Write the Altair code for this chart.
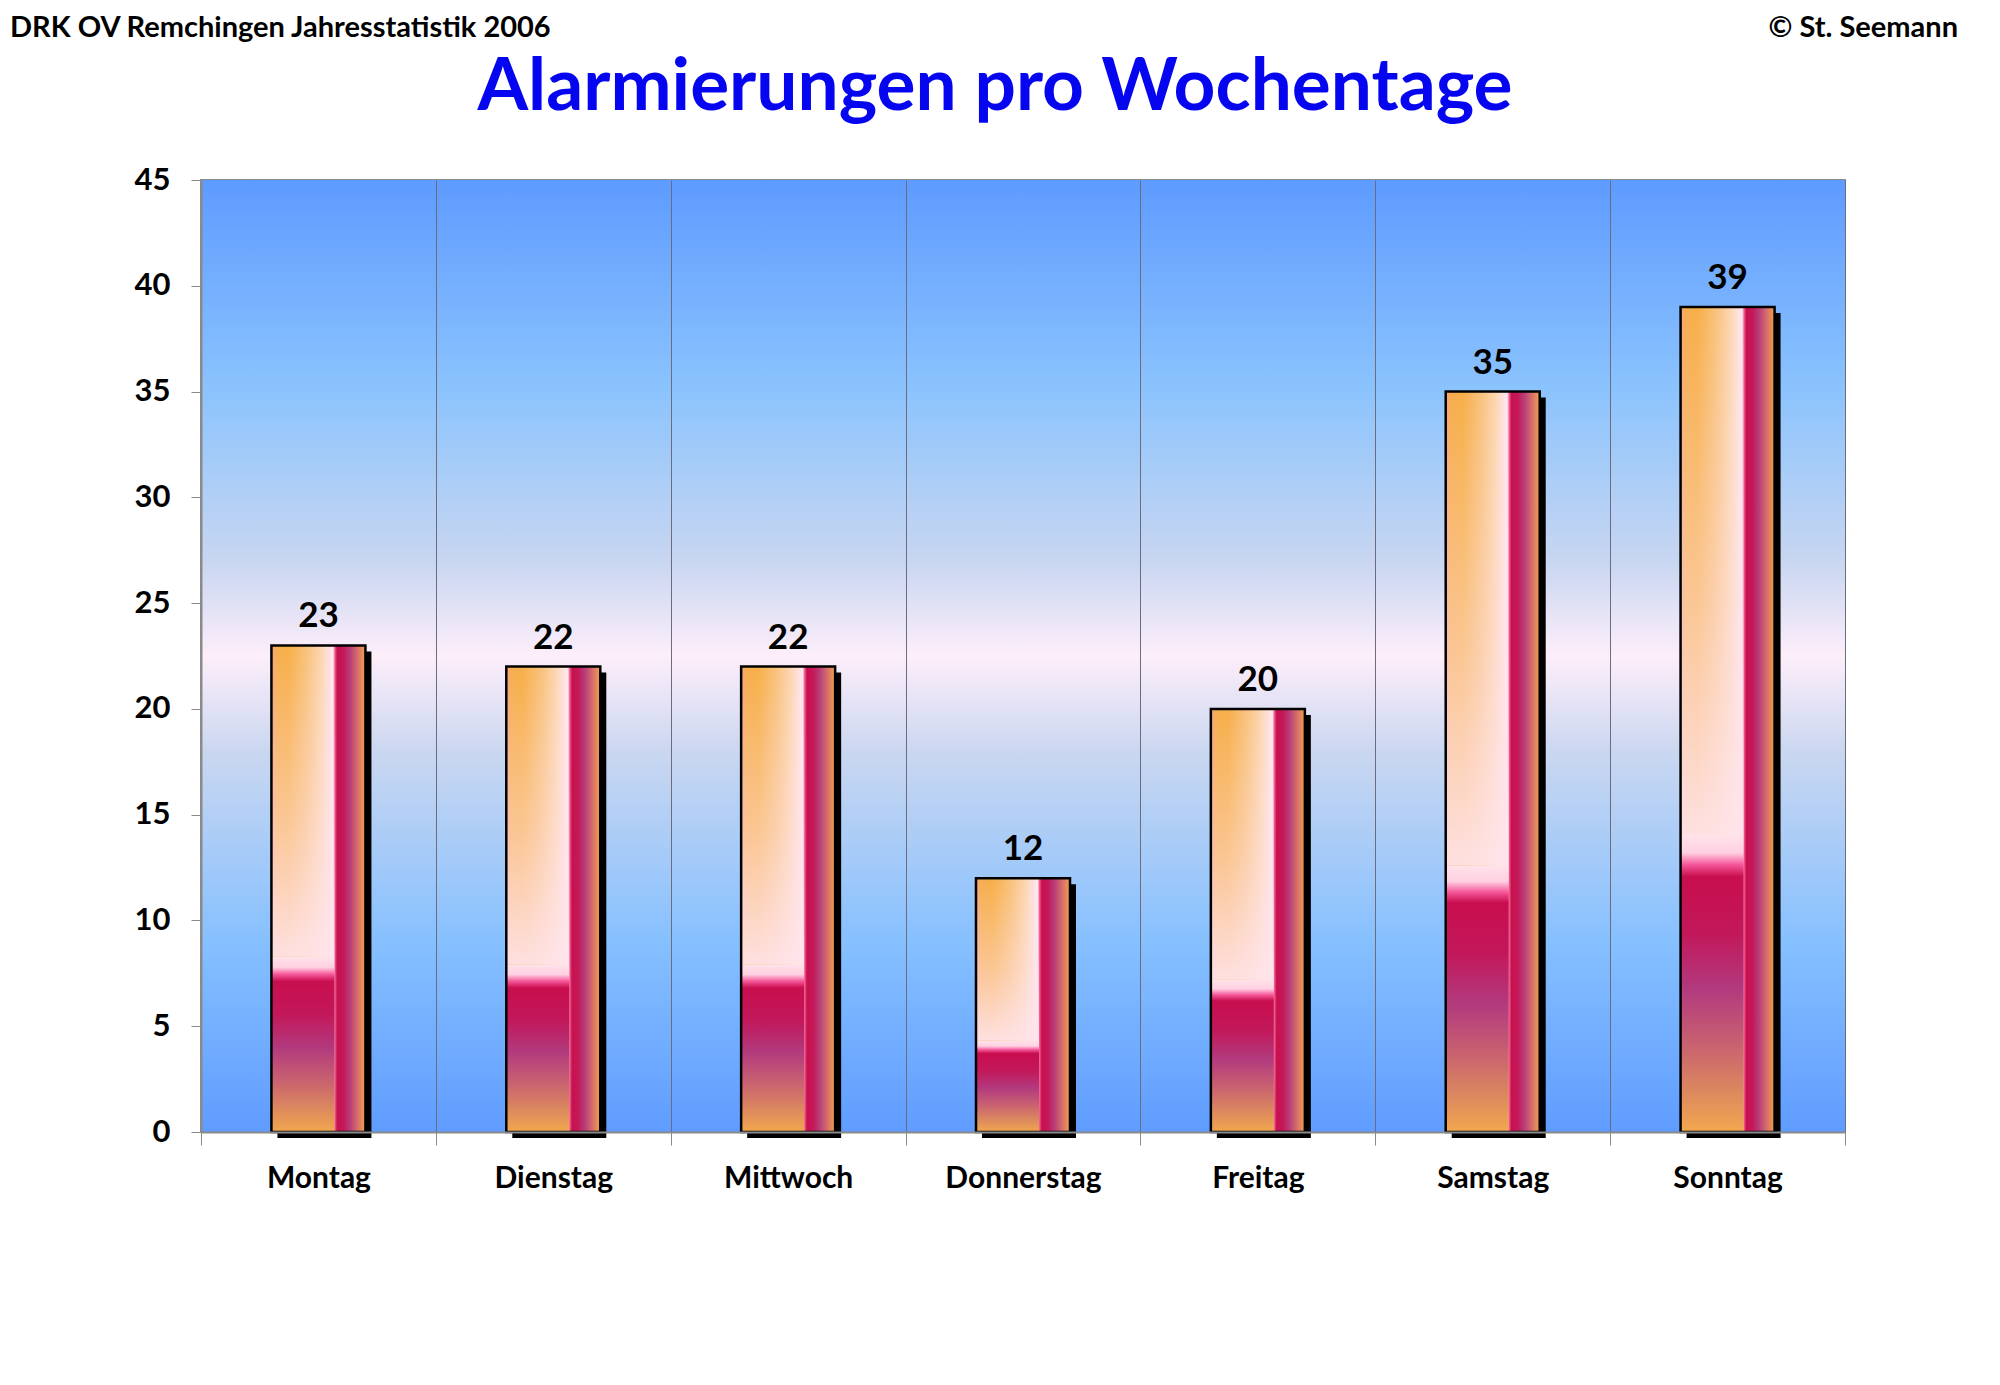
import altair as alt
import pandas as pd

# ---- data ----
days = ["Montag", "Dienstag", "Mittwoch", "Donnerstag", "Freitag", "Samstag", "Sonntag"]
counts = [23, 22, 22, 12, 20, 35, 39]
y_ticks = [0, 5, 10, 15, 20, 25, 30, 35, 40, 45]
header_left = "DRK OV Remchingen Jahresstatistik 2006"
header_right = "© St. Seemann"
main_title = "Alarmierungen pro Wochentage"

df = pd.DataFrame({"day": days, "n": counts})

FONT = "Lato"
W, H = 1644, 952
BAR_W = 94
LEFT_W = 63

bg_grad = {
    "gradient": "linear", "x1": 0, "y1": 0, "x2": 0, "y2": 1,
    "stops": [
        {"offset": 0.00, "color": "#5e9bff"},
        {"offset": 0.22, "color": "#8bc3fd"},
        {"offset": 0.40, "color": "#c8d6f1"},
        {"offset": 0.50, "color": "#fdeefa"},
        {"offset": 0.60, "color": "#cad7f0"},
        {"offset": 0.80, "color": "#86c0ff"},
        {"offset": 1.00, "color": "#5f9cff"},
    ],
}

bar_grad = {
    "gradient": "linear", "x1": 0, "y1": 0, "x2": 1, "y2": 0,
    "stops": [
        {"offset": 0.00, "color": "#f7a08a"},
        {"offset": 0.05, "color": "#f6ad50"},
        {"offset": 0.18, "color": "#f7af48"},
        {"offset": 0.38, "color": "#f9c27e"},
        {"offset": 0.52, "color": "#fcd5ad"},
        {"offset": 0.63, "color": "#ffe3e6"},
        {"offset": 0.655, "color": "#ffe8f0"},
        {"offset": 0.675, "color": "#f06090"},
        {"offset": 0.70, "color": "#c8104e"},
        {"offset": 0.77, "color": "#c41a5a"},
        {"offset": 0.84, "color": "#b8407a"},
        {"offset": 0.92, "color": "#d87068"},
        {"offset": 1.00, "color": "#f0a050"},
    ],
}

fade_grad = {
    "gradient": "linear", "x1": 0, "y1": 0, "x2": 0, "y2": 1,
    "stops": [
        {"offset": 0.00, "color": "rgba(255,228,236,0)"},
        {"offset": 0.55, "color": "rgba(255,226,234,0.45)"},
        {"offset": 1.00, "color": "rgba(255,228,236,0.92)"},
    ],
}

low_grad = {
    "gradient": "linear", "x1": 0, "y1": 0, "x2": 0, "y2": 1,
    "stops": [
        {"offset": 0.00, "color": "#ffe3ea"},
        {"offset": 0.06, "color": "#ffd0e2"},
        {"offset": 0.10, "color": "#f5579a"},
        {"offset": 0.14, "color": "#c80e4e"},
        {"offset": 0.33, "color": "#c2185a"},
        {"offset": 0.52, "color": "#b23a7e"},
        {"offset": 0.70, "color": "#c86070"},
        {"offset": 0.85, "color": "#da8560"},
        {"offset": 1.00, "color": "#f2a84e"},
    ],
}

x_enc = alt.X(
    "day:N", sort=days,
    scale=alt.Scale(paddingInner=0, paddingOuter=0),
    axis=alt.Axis(
        title=None, labelAngle=0, tickBand="extent", grid=True,
        gridColor="#6c6c7c", gridWidth=1, tickSize=13, tickColor="#8a8a8a",
        domainColor="#8a8a8a", domainWidth=2, labelPadding=18,
        labelFontSize=30, labelFont=FONT, labelFontWeight="bold",
        labelColor="black", zindex=1,
    ),
)
y_scale = alt.Scale(domain=[0, 45], nice=False)
y_axis = alt.Axis(
    title=None, values=y_ticks, grid=False, tickSize=10,
    tickColor="#8a8a8a", domainColor="#8a8a8a", domainWidth=2,
    labelPadding=21, labelFontSize=31, labelFont=FONT,
    labelFontWeight="bold", labelColor="black", zindex=1,
)
y_enc = alt.Y("n:Q", scale=y_scale, axis=y_axis)

base = alt.Chart(df).transform_calculate(lo="datum.n * 0.36")

background = alt.Chart(pd.DataFrame({"k": [0]})).mark_rect(color=bg_grad).encode(
    x=alt.value(0), x2=alt.value(W), y=alt.value(0), y2=alt.value(H)
)

shadow = base.mark_bar(color="black", width=BAR_W, xOffset=6, yOffset=6, y2Offset=2).encode(
    x=x_enc, y=y_enc
)

bars = base.mark_bar(color=bar_grad, width=BAR_W).encode(x=x_enc, y=y_enc)

fade = base.mark_bar(color=fade_grad, width=LEFT_W, xOffset=-(BAR_W - LEFT_W) / 2).encode(
    x=x_enc,
    y=alt.Y("n:Q", scale=y_scale, axis=y_axis),
    y2=alt.Y2("lo:Q"),
)

low = base.mark_bar(color=low_grad, width=LEFT_W, xOffset=-(BAR_W - LEFT_W) / 2).encode(
    x=x_enc,
    y=alt.Y("lo:Q", scale=y_scale, axis=y_axis),
    y2=alt.datum(0),
)

outline = base.mark_bar(fillOpacity=0, stroke="black", strokeWidth=2.5, width=BAR_W).encode(
    x=x_enc, y=y_enc
)

labels = base.mark_text(
    baseline="bottom", dy=-11, fontSize=35, font=FONT, fontWeight="bold", color="black"
).encode(x=x_enc, y=y_enc, text="n:Q")

hl = alt.Chart(pd.DataFrame({"t": [header_left]})).mark_text(
    align="left", baseline="alphabetic", fontSize=29, font=FONT, fontWeight="bold", color="black"
).encode(text="t:N", x=alt.value(-191), y=alt.value(-143))

hr = alt.Chart(pd.DataFrame({"t": [header_right]})).mark_text(
    align="right", baseline="alphabetic", fontSize=29, font=FONT, fontWeight="bold", color="black"
).encode(text="t:N", x=alt.value(1757), y=alt.value(-143))

ttl = alt.Chart(pd.DataFrame({"t": [main_title]})).mark_text(
    align="center", baseline="alphabetic", fontSize=73, font=FONT, fontWeight="bold", color="#0505f0"
).encode(text="t:N", x=alt.value(794), y=alt.value(-70))

chart = alt.layer(
    background, shadow, bars, fade, low, outline, labels, hl, hr, ttl
).properties(
    width=W, height=H,
    autosize=alt.AutoSizeParams(type="none"),
    padding={"left": 193, "top": 172, "right": 140, "bottom": 230},
    background="white",
).configure_view(stroke="#8a8a8a", strokeWidth=2)

chart.save("out.html", embed_options={"renderer": "svg", "actions": False})
